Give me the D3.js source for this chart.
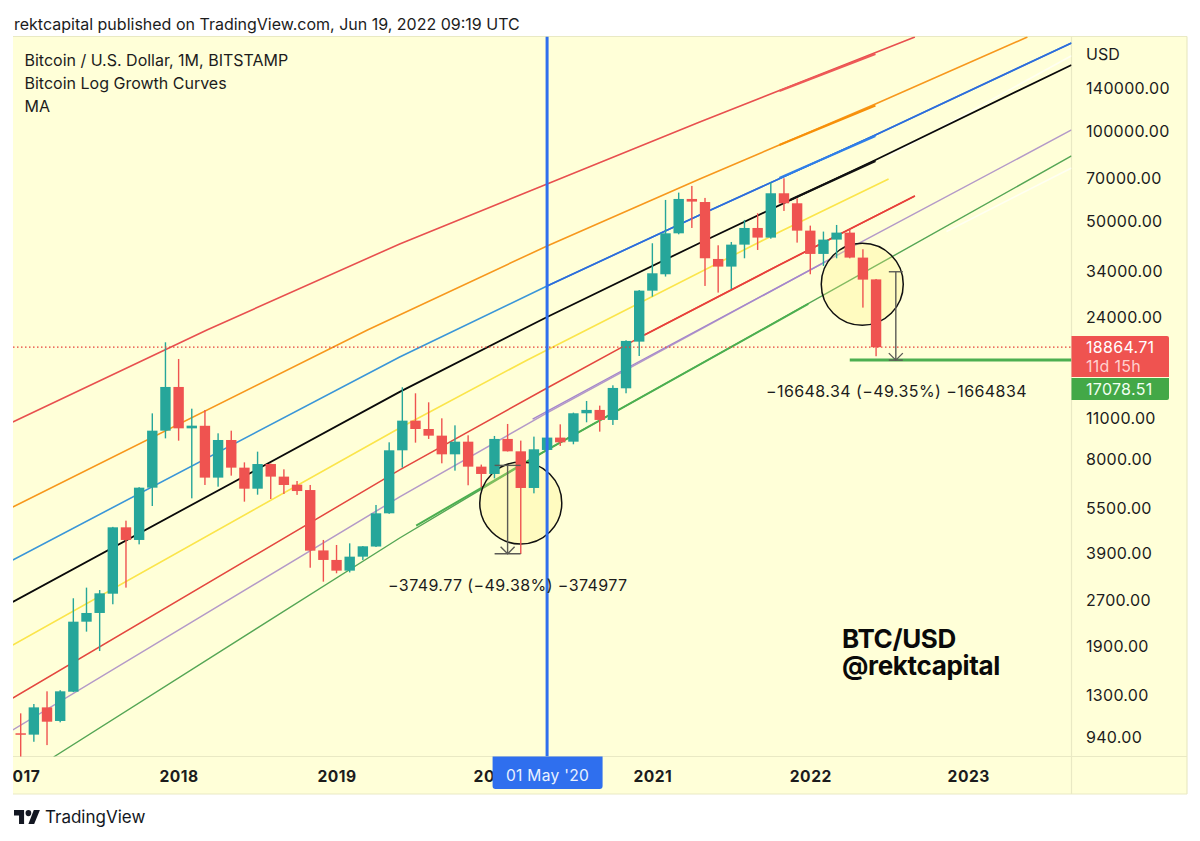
<!DOCTYPE html>
<html>
<head>
<meta charset="utf-8">
<script src="https://cdnjs.cloudflare.com/ajax/libs/d3/7.8.5/d3.min.js"></script>
<style>
	html, body { margin: 0; padding: 0; background: #fff; }
	svg { display: block; }
	text { font-family: Inter, "Liberation Sans", sans-serif; fill: #1c1c1c; }
	.axis path, .axis line { display: none; }
</style>
</head>
<body>
<svg id="chart" width="1200" height="841"></svg>
<script>
// monthly candles, Jan 2017 to Jun 2022 (month number counted from Jan 2017)
var opens = [965, 955, 1178, 1061, 1329, 2279, 2437, 2827, 4713, 4276, 6396, 9920,
	13890, 10100, 10300, 6910, 9233, 7462, 6346, 7673, 6964, 6545, 6280, 3945,
	3666, 3376, 3760, 4065, 5250, 8528, 10716, 10049, 9547, 8268, 9114, 7520,
	7108, 9309, 8462, 6381, 8550, 9405, 9114, 11342, 11638, 10774, 13747, 19693,
	29160, 33077, 45345, 59080, 57700, 37220, 35093, 41560, 47250, 43870, 61720, 57140,
	46290, 38690, 43200, 45590, 37610, 31800];
var highs = [1125, 1209, 1333, 1345, 2729, 2962, 2908, 4730, 4961, 6420, 11335, 19590,
	17230, 11750, 11630, 9720, 9920, 7772, 8440, 7700, 7367, 6733, 6530, 4276,
	4114, 4166, 4080, 5598, 9070, 13856, 13228, 12340, 10910, 10336, 9572, 7640,
	9524, 10446, 9189, 9476, 10060, 10417, 11400, 12469, 12031, 14069, 19900, 29300,
	42000, 58630, 62030, 65300, 59550, 41350, 42420, 50270, 52920, 67000, 69270, 59370,
	48110, 45950, 48360, 47150, 40100, 31900];
var lows = [751, 904, 881, 1050, 1325, 2111, 1818, 2606, 2962, 4134, 5554, 9350,
	9185, 5892, 6530, 6445, 7016, 5743, 6060, 5861, 6092, 6050, 3453, 3102,
	3308, 3330, 3666, 4050, 5230, 7464, 9046, 9309, 7715, 7291, 6515, 6414,
	6872, 8450, 3837, 6123, 8130, 8820, 8933, 10581, 9846, 10367, 13230, 17632,
	27855, 32500, 45000, 47250, 30234, 28727, 29540, 37415, 39890, 43500, 53860, 42210,
	33080, 35270, 37415, 37400, 25590, 17600];
var closes = [955, 1178, 1055, 1333, 2279, 2437, 2835, 4713, 4276, 6396, 9920, 13890,
	10100, 10310, 6910, 9233, 7462, 6346, 7673, 6964, 6530, 6232, 3938, 3666,
	3376, 3760, 4072, 5250, 8528, 10716, 10049, 9547, 8268, 9114, 7520, 7108,
	9309, 8462, 6381, 8594, 9405, 9069, 11342, 11638, 10774, 13785, 19797, 29160,
	33330, 45345, 59080, 57890, 37415, 35093, 41560, 47250, 43870, 61720, 57140, 46290,
	38690, 43200, 45590, 37610, 31740, 18864.71];

// tick labels
var priceTicks = [140000, 100000, 70000, 50000, 34000, 24000, 11000, 8000, 5500, 3900, 2700, 1900, 1300, 940];
var yearMonths = [0, 12, 24, 36, 48, 60, 72];
var yearLabels = ['2017', '2018', '2019', '2020', '2021', '2022', '2023'];

// log growth curves: month number and price along each one
var curveTopRedMonths = [-0.6, 14.15, 28.8, 40, 51.6, 67.95];
var curveTopRedPrices = [10610, 21541, 41780, 66310, 106900, 205600];
var curveOrangeMonths = [-0.6, 26.35, 40, 51.6, 64.95, 76.5];
var curveOrangePrices = [5511, 21541, 41140, 68910, 122800, 205600];
var curveBlueMonths = [-0.6, 28.8, 40, 51.6, 64.95, 79.85];
var curveBluePrices = [3666, 17500, 30230, 52220, 96710, 196400];
var curveBlackMonths = [-0.6, 28.8, 40, 51.6, 64.95, 79.85];
var curveBlackPrices = [2652, 13370, 23810, 42100, 79760, 165800];
var curveYellowMonths = [-0.6, 28.8, 38.5, 57.65, 65.95];
var curveYellowPrices = [1905, 10130, 17100, 45820, 68910];
var curveRedMonths = [-0.6, 28.8, 40, 47.4, 57.65, 67.95];
var curveRedPrices = [1266, 7331, 13780, 20730, 35540, 60460];
var curvePurpleMonths = [-0.6, 28.8, 40, 63.75, 79.85];
var curvePurplePrices = [990, 5955, 11370, 42100, 100500];
var curveGreenMonths = [2.5, 28.8, 40, 64.55, 79.85];
var curveGreenPrices = [804, 4341, 8550, 34460, 82280];

// second copies of the curves, a bit heavier, laid on top where the picture shows them
var overTopRedMonths = [57.65, 64.95];
var overTopRedPrices = [135700, 180400];
var overOrangeMonths = [57.65, 64.95];
var overOrangePrices = [89520, 121400];
var overBlueMonths = [57.65, 64.95];
var overBluePrices = [69440, 95970];
var overBlackMonths = [58.45, 64.95];
var overBlackPrices = [58610, 79150];
var overRedMonths = [47.4, 57.65, 67.95];
var overRedPrices = [20730, 35540, 60460];
var overPurpleMonths = [38.9, 46.5, 61.15];
var overPurplePrices = [10850, 16450, 36370];
var overGreenMonths = [30.05, 40, 59.85];
var overGreenPrices = [4779, 8550, 26320];
// pale extensions on the right
var paleUpperMonths = [65.95, 79.85];
var paleUpperPrices = [82000, 178000];
var paleLowerMonths = [70.35, 79.85];
var paleLowerPrices = [46000, 75000];

// annotations
var lastPrice = 18864.71;
var supportPrice = 17078.51;
var supportStart = 63;
var rangeOneMonth = 37, rangeOneTop = 7593.6, rangeOneBottom = 3843.8;
var rangeTwoMonth = 66.5, rangeTwoTop = 33726.85, rangeTwoBottom = 17078.51;
var circleMonths = [38, 63.95];
var circlePrices = [5683, 30630];
var crossMonth = 40;

var upColor = '#26a69a',
	downColor = '#ef5350',
	paneColor = '#ffffd8',
	edgeColor = '#e9e9c4',
	crossColor = '#2f6fee';

var pane = {left: 13, right: 1071.5, top: 36.5, bottom: 756.5, outerRight: 1187, outerBottom: 794};

var x = d3.scaleLinear().domain([-0.585, 79.85]).range([pane.left, pane.right]);
var y = d3.scaleLog().domain([807, 206400]).range([pane.bottom, pane.top]);

var svg = d3.select('#chart');

svg.append('text')
	.attr('x', 14).attr('y', 30)
	.style('font-size', '16px')
	.text('rektcapital published on TradingView.com, Jun 19, 2022 09:19 UTC');

// background and frame
svg.append('rect')
	.attr('x', pane.left).attr('y', pane.top)
	.attr('width', pane.outerRight - pane.left)
	.attr('height', pane.outerBottom - pane.top)
	.attr('fill', paneColor);

svg.append('clipPath').attr('id', 'pane-clip').append('rect')
	.attr('x', pane.left).attr('y', pane.top)
	.attr('width', pane.right - pane.left)
	.attr('height', pane.bottom - pane.top);

svg.append('clipPath').attr('id', 'time-clip').append('rect')
	.attr('x', pane.left).attr('y', pane.bottom)
	.attr('width', pane.right - pane.left)
	.attr('height', pane.outerBottom - pane.bottom);

var frameLines = [
	[pane.left, pane.top, pane.outerRight, pane.top],
	[pane.left, pane.bottom, pane.outerRight, pane.bottom],
	[pane.left, pane.outerBottom, pane.outerRight, pane.outerBottom],
	[pane.right, pane.top, pane.right, pane.outerBottom],
	[pane.outerRight, pane.top, pane.outerRight, pane.outerBottom]
];
svg.append('g').selectAll('line')
	.data(frameLines)
	.enter().append('line')
	.attr('x1', function(d) { return d[0]; })
	.attr('y1', function(d) { return d[1]; })
	.attr('x2', function(d) { return d[2]; })
	.attr('y2', function(d) { return d[3]; })
	.attr('stroke', edgeColor)
	.attr('stroke-width', 1.2);

var plot = svg.append('g').attr('clip-path', 'url(#pane-clip)');

var curveLine = d3.line()
	.x(function(d) { return x(d[0]); })
	.y(function(d) { return y(d[1]); });

function drawCurve(months, prices, color, width) {
	plot.append('path')
		.datum(d3.zip(months, prices))
		.attr('d', curveLine)
		.attr('fill', 'none')
		.attr('stroke', color)
		.attr('stroke-width', width);
}

drawCurve(paleUpperMonths, paleUpperPrices, '#fffff2', 1.6);
drawCurve(paleLowerMonths, paleLowerPrices, '#fffff2', 1.6);
drawCurve(curveTopRedMonths, curveTopRedPrices, '#e8504f', 1.6);
drawCurve(curveOrangeMonths, curveOrangePrices, '#f7981d', 1.6);
drawCurve(curveBlueMonths, curveBluePrices, '#3a96d8', 1.6);
drawCurve(curveBlackMonths, curveBlackPrices, '#0a0a0a', 1.8);
drawCurve(curveYellowMonths, curveYellowPrices, '#fbe54b', 1.6);
drawCurve(curveRedMonths, curveRedPrices, '#e4473f', 1.5);
drawCurve(curvePurpleMonths, curvePurplePrices, '#b49ac8', 1.5);
drawCurve(curveGreenMonths, curveGreenPrices, '#55a655', 1.4);

drawCurve(overTopRedMonths, overTopRedPrices, '#ee5a58', 2.2);
drawCurve(overOrangeMonths, overOrangePrices, '#f79009', 2.2);
drawCurve(curveBlueMonths.slice(2), curveBluePrices.slice(2), '#2e6bdc', 1.7);
drawCurve(overBlueMonths, overBluePrices, '#2f7fe8', 2.2);
drawCurve(overBlackMonths, overBlackPrices, '#111', 2.4);
drawCurve(overRedMonths, overRedPrices, '#e8403a', 1.7);
drawCurve(overPurpleMonths, overPurplePrices, '#a486cc', 1.4);
drawCurve(overGreenMonths, overGreenPrices, '#4caf50', 2);

// circles around the two corrections
plot.append('g').selectAll('circle')
	.data(d3.zip(circleMonths, circlePrices))
	.enter().append('circle')
	.attr('cx', function(d) { return x(d[0]); })
	.attr('cy', function(d) { return y(d[1]); })
	.attr('r', 41)
	.attr('fill', 'rgba(255, 240, 130, 0.28)')
	.attr('stroke', '#111')
	.attr('stroke-width', 1.5);

// candles
var candles = plot.append('g').selectAll('g')
	.data(opens.map(function(d, i) { return i; }))
	.enter().append('g')
	.attr('fill', function(i) { return closes[i] >= opens[i] ? upColor : downColor; });

candles.append('rect')
	.attr('x', function(i) { return x(i) - 0.7; })
	.attr('width', 1.4)
	.attr('y', function(i) { return y(highs[i]); })
	.attr('height', function(i) { return y(lows[i]) - y(highs[i]); });

candles.append('rect')
	.attr('x', function(i) { return x(i) - 5.2; })
	.attr('width', 10.4)
	.attr('y', function(i) { return y(Math.max(opens[i], closes[i])); })
	.attr('height', function(i) { return Math.max(1.5, Math.abs(y(opens[i]) - y(closes[i]))); });

// last price, support, vertical marker
plot.append('line')
	.attr('x1', pane.left).attr('x2', pane.right)
	.attr('y1', y(lastPrice)).attr('y2', y(lastPrice))
	.attr('stroke', '#e8403a')
	.attr('stroke-width', 1.2)
	.attr('stroke-dasharray', '1.5,2.5');

plot.append('line')
	.attr('x1', x(supportStart)).attr('x2', pane.right)
	.attr('y1', y(supportPrice)).attr('y2', y(supportPrice))
	.attr('stroke', '#4caf50')
	.attr('stroke-width', 3);

plot.append('line')
	.attr('x1', x(crossMonth)).attr('x2', x(crossMonth))
	.attr('y1', pane.top).attr('y2', pane.bottom)
	.attr('stroke', crossColor)
	.attr('stroke-width', 3);

// measured drops
function drawRange(month, top, bottom, tickLeft, tickRight) {
	var g = plot.append('g')
		.attr('stroke', '#5b5b55')
		.attr('stroke-width', 1.4)
		.attr('fill', 'none');
	var cx = x(month), y0 = y(top), y1 = y(bottom);
	g.append('line').attr('x1', cx).attr('x2', cx).attr('y1', y0).attr('y2', y1);
	g.append('line').attr('x1', cx - tickLeft).attr('x2', cx + tickRight).attr('y1', y0).attr('y2', y0);
	g.append('line').attr('x1', cx - tickLeft).attr('x2', cx + tickRight).attr('y1', y1).attr('y2', y1);
	g.append('path').attr('d', 'M' + (cx - 7) + ',' + (y1 - 7) + 'L' + cx + ',' + y1 + 'L' + (cx + 7) + ',' + (y1 - 7));
}
drawRange(rangeOneMonth, rangeOneTop, rangeOneBottom, 13, 13);
drawRange(rangeTwoMonth, rangeTwoTop, rangeTwoBottom, 7, 7);

// axes
var priceAxis = d3.axisRight(y)
	.tickValues(priceTicks)
	.tickSize(0)
	.tickPadding(14.5)
	.tickFormat(d3.format('.2f'));

svg.append('g')
	.attr('class', 'axis')
	.attr('transform', 'translate(' + pane.right + ',0)')
	.call(priceAxis)
	.selectAll('text')
	.attr('dy', '0.38em')
	.style('font-size', '16px')
	.style('letter-spacing', '0.3px')
	.style('font-family', 'Inter, "Liberation Sans", sans-serif');

var timeAxis = d3.axisBottom(x)
	.tickValues(yearMonths)
	.tickSize(0)
	.tickPadding(0)
	.tickFormat(function(d, i) { return yearLabels[i]; });

svg.append('g')
	.attr('clip-path', 'url(#time-clip)')
	.append('g')
	.attr('class', 'axis')
	.attr('transform', 'translate(0,' + (pane.bottom + 14) + ')')
	.call(timeAxis)
	.selectAll('text')
	.style('font-size', '15.6px')
	.style('font-weight', '700')
	.style('letter-spacing', '0.5px')
	.style('font-family', 'Inter, "Liberation Sans", sans-serif');

svg.append('text')
	.attr('x', 1086).attr('y', 59.5)
	.style('font-size', '16px')
	.text('USD');

// price labels on the axis
svg.append('path')
	.attr('d', 'M1071.5,336H1167a2,2 0 0 1 2,2V377H1071.5Z')
	.attr('fill', downColor);
svg.append('path')
	.attr('d', 'M1071.5,378H1169V398a2,2 0 0 1 -2,2H1071.5Z')
	.attr('fill', '#43a847');

svg.append('text')
	.attr('x', 1086).attr('y', 352.5)
	.style('font-size', '16px').style('letter-spacing', '0.3px').style('fill', '#fff')
	.text(d3.format('.2f')(lastPrice));
svg.append('text')
	.attr('x', 1086).attr('y', 371.5)
	.style('font-size', '16px').style('letter-spacing', '0.3px').style('fill', '#ffd0ce')
	.text('11d 15h');
svg.append('text')
	.attr('x', 1086).attr('y', 394.5)
	.style('font-size', '16px').style('letter-spacing', '0.3px').style('fill', '#f2fff2')
	.text(d3.format('.2f')(supportPrice));

// date label of the vertical marker
svg.append('path')
	.attr('d', 'M' + (x(crossMonth) - 54.5) + ',756.5H' + (x(crossMonth) + 55.5) + 'V786a3,3 0 0 1 -3,3H' + (x(crossMonth) - 51.5) + 'a3,3 0 0 1 -3,-3Z')
	.attr('fill', crossColor);
svg.append('text')
	.attr('x', x(crossMonth) + 0.5).attr('y', 781)
	.attr('text-anchor', 'middle')
	.style('font-size', '15.6px').style('letter-spacing', '0.3px').style('fill', '#e9f1ff')
	.text("01 May '20");

// texts on the chart
var legendLines = ['Bitcoin / U.S. Dollar, 1M, BITSTAMP', 'Bitcoin Log Growth Curves', 'MA'];
svg.append('g').selectAll('text')
	.data(legendLines)
	.enter().append('text')
	.attr('x', 24.5)
	.attr('y', function(d, i) { return 65.5 + i * 23; })
	.style('font-size', '16px')
	.text(function(d) { return d; });

svg.append('text')
	.attr('x', 388).attr('y', 590.5)
	.style('font-size', '16px').style('letter-spacing', '0.42px')
	.text('\u22123749.77 (\u221249.38%) \u2212374977');
svg.append('text')
	.attr('x', 766).attr('y', 396.5)
	.style('font-size', '16px').style('letter-spacing', '0.42px')
	.text('\u221216648.34 (\u221249.35%) \u22121664834');

svg.append('text')
	.attr('x', 842).attr('y', 648)
	.style('font-size', '26px').style('font-weight', '700').style('fill', '#0a0a0a').style('letter-spacing', '-0.35px')
	.text('BTC/USD');
svg.append('text')
	.attr('x', 842).attr('y', 675)
	.style('font-size', '26px').style('font-weight', '700').style('fill', '#0a0a0a').style('letter-spacing', '-0.35px')
	.text('@rektcapital');

// TradingView logo
svg.append('path')
	.attr('transform', 'translate(14,810) scale(0.72,0.78)')
	.attr('d', 'M14 18H7V7H0V0h14v18zM28 18h-8l7.5-18H36L28 18z')
	.attr('fill', '#131722');
svg.append('circle')
	.attr('transform', 'translate(14,810) scale(0.72,0.78)')
	.attr('cx', 20).attr('cy', 4).attr('r', 4)
	.attr('fill', '#131722');
svg.append('text')
	.attr('x', 45).attr('y', 823)
	.style('font-size', '17px').style('fill', '#131722')
	.text('TradingView');
</script>
</body>
</html>
